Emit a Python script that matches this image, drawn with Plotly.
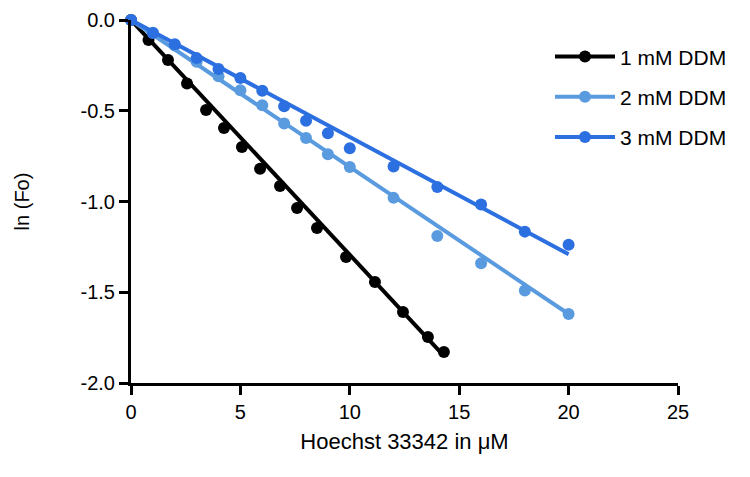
import plotly.graph_objects as go

# ---- data ----
series_names = ["1 mM DDM", "2 mM DDM", "3 mM DDM"]

x_1mM = [0, 0.8, 1.69, 2.56, 3.43, 4.25, 5.07, 5.9, 6.81, 7.59, 8.5, 9.83, 11.15, 12.43, 13.57, 14.3]
y_1mM = [0, -0.11, -0.22, -0.35, -0.496, -0.595, -0.70, -0.82, -0.915, -1.036, -1.146, -1.306, -1.444, -1.609, -1.746, -1.829]

x_2mM = [0, 1, 2, 3, 4, 5, 6, 7, 8, 9, 10, 12, 14, 16, 18, 20]
y_2mM = [0, -0.07, -0.14, -0.23, -0.31, -0.387, -0.47, -0.57, -0.65, -0.74, -0.81, -0.98, -1.19, -1.34, -1.49, -1.62]

x_3mM = [0, 1, 2, 3, 4, 5, 6, 7, 8, 9, 10, 12, 14, 16, 18, 20]
y_3mM = [0, -0.072, -0.133, -0.21, -0.27, -0.32, -0.39, -0.475, -0.555, -0.624, -0.707, -0.807, -0.92, -1.017, -1.166, -1.238]

# linear fit lines (end points)
fit_x_1mM = [0, 14.3]
fit_y_1mM = [0, -1.85]
fit_x_2mM = [0, 20]
fit_y_2mM = [0, -1.62]
fit_x_3mM = [0, 20]
fit_y_3mM = [0, -1.29]

x_ticks = [0, 5, 10, 15, 20, 25]
x_ticklabels = ["0", "5", "10", "15", "20", "25"]
y_ticks = [0, -0.5, -1.0, -1.5, -2.0]
y_ticklabels = ["0.0", "-0.5", "-1.0", "-1.5", "-2.0"]

colors = ["#000000", "#5A9BE0", "#2C6FE0"]
FONT = "Liberation Sans, Arial, sans-serif"

fig = go.Figure()
data = [(x_1mM, y_1mM, fit_x_1mM, fit_y_1mM),
        (x_2mM, y_2mM, fit_x_2mM, fit_y_2mM),
        (x_3mM, y_3mM, fit_x_3mM, fit_y_3mM)]

for name, col, (xs, ys, fx, fy) in zip(series_names, colors, data):
    fig.add_trace(go.Scatter(x=fx, y=fy, mode="lines", line=dict(color=col, width=4),
                             showlegend=False, cliponaxis=False, hoverinfo="skip"))
    fig.add_trace(go.Scatter(x=xs, y=ys, mode="markers", marker=dict(color=col, size=12),
                             showlegend=False, cliponaxis=False, name=name))

# legend entries (line + marker)
for name, col in zip(series_names, colors):
    fig.add_trace(go.Scatter(x=[None], y=[None], mode="lines+markers", name=name,
                             line=dict(color=col, width=4), marker=dict(color=col, size=12),
                             legendgroup=name))

fig.update_layout(
    width=750, height=477,
    margin=dict(l=123, r=80, t=12, b=102),
    plot_bgcolor="white", paper_bgcolor="white",
    font=dict(family=FONT, color="black"),
    showlegend=True,
    legend=dict(x=0.766, y=0.955, xanchor="left", yanchor="top",
                font=dict(size=21, family=FONT), tracegroupgap=10,
                bgcolor="rgba(0,0,0,0)", itemwidth=60),
    xaxis=dict(range=[0, 25], tickvals=x_ticks, ticktext=x_ticklabels, automargin=False,
               showline=True, linecolor="black", linewidth=3,
               ticks="outside", ticklen=9, tickwidth=3, tickcolor="black",
               tickfont=dict(size=20), showgrid=False, zeroline=False,
               title=dict(text="Hoechst 33342 in μM", font=dict(size=22), standoff=12)),
    yaxis=dict(range=[-2, 0], tickvals=y_ticks, ticktext=y_ticklabels, automargin=False,
               showline=True, linecolor="black", linewidth=3,
               ticks="outside", ticklen=9, tickwidth=3, tickcolor="black",
               tickfont=dict(size=20), showgrid=False, zeroline=False,
               title=dict(text="ln (Fo)", font=dict(size=20), standoff=46)),
)

fig.write_html("out.html")
